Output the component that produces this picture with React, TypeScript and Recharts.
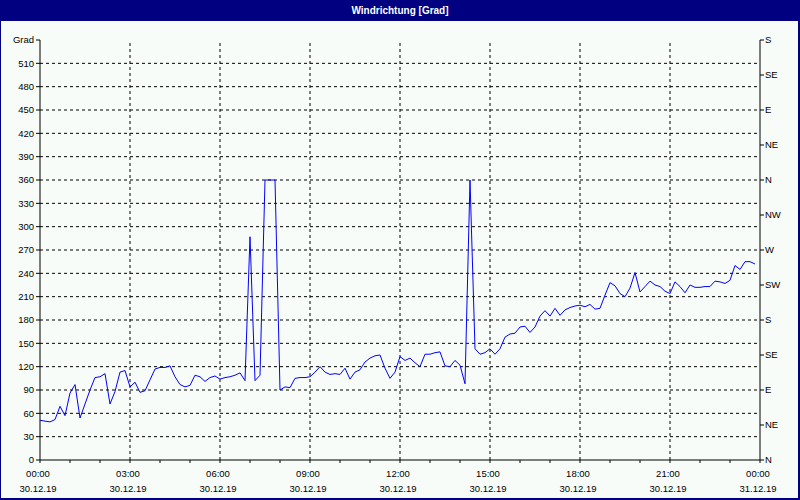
import React from 'react';
import {
  LineChart, Line, XAxis, YAxis, CartesianGrid, ReferenceLine,
} from 'recharts';

// wind direction in degrees, one sample every 10 minutes from 00:00
const SAMPLE_MINUTES = 10;
const direction = [
  51, 50, 49, 52, 69, 57, 86, 97, 54, 72,
  90, 106, 107, 111, 72, 88, 113, 115, 94, 100,
  87, 89, 103, 117, 119, 119, 121, 107, 97, 94,
  96, 109, 107, 101, 106, 108, 104, 106, 107, 109,
  112, 102, 287, 102, 109, 360, 360, 360, 90, 94,
  93, 105, 106, 106, 107, 113, 120, 113, 110, 111,
  110, 118, 104, 113, 116, 126, 131, 134, 135, 118,
  105, 113, 133, 128, 131, 125, 120, 136, 136, 138,
  139, 121, 120, 128, 122, 98, 360, 143, 136, 138,
  143, 136, 143, 158, 162, 163, 171, 172, 164, 171,
  185, 192, 185, 195, 186, 193, 196, 198, 199, 197,
  200, 194, 195, 212, 228, 224, 214, 210, 221, 241,
  216, 223, 230, 225, 223, 217, 214, 229, 223, 215,
  225, 222, 222, 223, 223, 230, 229, 227, 231, 250,
  245, 255, 255, 252,
];

const hourTicks = [
  0, 60, 120, 180, 240, 300, 360, 420, 480, 540, 600, 660, 720,
  780, 840, 900, 960, 1020, 1080, 1140, 1200, 1260, 1320, 1380, 1440,
];
const majorTicks = [0, 180, 360, 540, 720, 900, 1080, 1260, 1440];
const timeLabels = ['00:00', '03:00', '06:00', '09:00', '12:00', '15:00', '18:00', '21:00', '00:00'];
const dateLabels = ['30.12.19', '30.12.19', '30.12.19', '30.12.19', '30.12.19', '30.12.19', '30.12.19', '30.12.19', '31.12.19'];

const gradTicks = [0, 30, 60, 90, 120, 150, 180, 210, 240, 270, 300, 330, 360, 390, 420, 450, 480, 510, 540];
const gridTicks = [30, 60, 90, 120, 150, 180, 210, 240, 270, 300, 330, 360, 390, 420, 450, 480, 510];
const compassTicks = [0, 45, 90, 135, 180, 225, 270, 315, 360, 405, 450, 495, 540];
const compassLabels = ['N', 'NE', 'E', 'SE', 'S', 'SW', 'W', 'NW', 'N', 'NE', 'E', 'SE', 'S'];

const FONT = '"Liberation Sans", Arial, sans-serif';
const NAVY = '#000080';

const chartData = direction.map((v, i) => ({ t: i * SAMPLE_MINUTES, dir: v }));

function TimeTick(props: any) {
  const { x, y, payload } = props;
  const idx = majorTicks.indexOf(payload.value);
  if (idx < 0) return <g />;
  return (
    <g>
      <text x={x - 2} y={y + 12} textAnchor="middle" fontSize={9.5} fontFamily={FONT} fill="#000">
        {timeLabels[idx]}
      </text>
      <text x={x - 2} y={y + 27} textAnchor="middle" fontSize={9.5} fontFamily={FONT} fill="#000">
        {dateLabels[idx]}
      </text>
    </g>
  );
}

export default function App() {
  return (
    <div style={{ position: 'fixed', left: 0, top: 0, width: 800, height: 500, background: '#F8FCF8' }}>
      <LineChart
        width={800}
        height={500}
        data={chartData}
        margin={{ top: 40, right: 0, bottom: 0, left: 0 }}
      >
        {/* dashed grid only inside the frame */}
        {gridTicks.map((g) => (
          <ReferenceLine key={`h${g}`} y={g} stroke="#000" strokeDasharray="3 3" />
        ))}
        {majorTicks.slice(1, -1).map((m) => (
          <ReferenceLine key={`v${m}`} x={m} stroke="#000" strokeDasharray="3 3" />
        ))}
        <XAxis
          dataKey="t"
          type="number"
          domain={[0, 1440]}
          ticks={hourTicks}
          interval={0}
          height={40}
          tickSize={3}
          tickMargin={2}
          axisLine={{ stroke: '#000' }}
          tickLine={{ stroke: '#000' }}
          tick={<TimeTick />}
        />
        <XAxis
          xAxisId="frameTop"
          orientation="top"
          type="number"
          domain={[0, 1440]}
          height={0}
          tick={false}
          tickLine={false}
          axisLine={{ stroke: '#000' }}
        />
        <YAxis
          domain={[0, 540]}
          ticks={gradTicks}
          interval={0}
          width={40}
          tickSize={4}
          tickMargin={2}
          axisLine={{ stroke: '#000' }}
          tickLine={{ stroke: '#000' }}
          tick={{ fill: '#000', fontSize: 9.5, fontFamily: FONT }}
          tickFormatter={(v) => (v === 540 ? 'Grad' : String(v))}
        />
        <YAxis
          yAxisId="compass"
          orientation="right"
          domain={[0, 540]}
          allowDataOverflow
          ticks={compassTicks}
          interval={0}
          width={40}
          tickSize={4}
          tickMargin={1}
          axisLine={{ stroke: '#000' }}
          tickLine={{ stroke: '#000' }}
          tick={{ fill: '#000', fontSize: 9.5, fontFamily: FONT, textAnchor: 'start' }}
          tickFormatter={(v) => compassLabels[compassTicks.indexOf(v)] ?? ''}
        />
        <Line
          type="linear"
          dataKey="dir"
          stroke="#0000FF"
          strokeWidth={1}
          dot={false}
          isAnimationActive={false}
        />
      </LineChart>
      <div
        style={{
          position: 'absolute', left: 0, top: 0, width: 800, height: 21, background: NAVY,
          color: '#fff', fontFamily: FONT, fontWeight: 'bold', fontSize: 10,
          lineHeight: '21px', textAlign: 'center',
        }}
      >
        Windrichtung [Grad]
      </div>
      <div
        style={{
          position: 'absolute', left: 0, top: 0, width: 800, height: 500, pointerEvents: 'none',
          boxShadow: `inset 1px 0 0 ${NAVY}, inset -2px 0 0 ${NAVY}, inset 0 -2px 0 ${NAVY}`,
        }}
      />
    </div>
  );
}
